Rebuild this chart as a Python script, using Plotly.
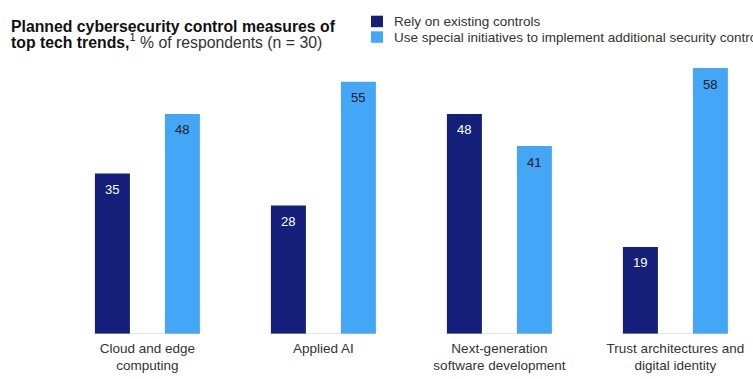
import plotly.graph_objects as go

categories = ["Cloud and edge<br>computing", "Applied AI", "Next-generation<br>software development",
              "Trust architectures and<br>digital identity"]
series_names = ["Rely on existing controls",
                "Use special initiatives to implement additional security controls"]
rely_existing = [35, 28, 48, 19]
special_initiatives = [48, 55, 41, 58]

DARK = "#131F78"
LIGHT = "#44A6F6"
TEXT = "#333333"
FONT = "Liberation Sans, Arial, sans-serif"

W, H = 753, 379
ML, MR, MT, MB = 60, 0, 60, 45
PW, PH = W - ML - MR, H - MT - MB


def px_x(px):
    return (px - ML) / PW


def px_y(py):
    return (H - MB - py) / PH


xs = list(range(len(categories)))

fig = go.Figure()
fig.add_trace(go.Bar(x=xs, y=rely_existing, name=series_names[0], marker_color=DARK,
                     marker_line_width=0, showlegend=False, hoverinfo="skip"))
fig.add_trace(go.Bar(x=xs, y=special_initiatives, name=series_names[1], marker_color=LIGHT,
                     marker_line_width=0, showlegend=False, hoverinfo="skip"))

annotations = []
off = 0.199
for i, (a, b) in enumerate(zip(rely_existing, special_initiatives)):
    annotations.append(dict(x=i - off, y=a, text=str(a), showarrow=False, yshift=-16,
                            yanchor="middle", font=dict(family=FONT, size=13, color="white")))
    annotations.append(dict(x=i + off, y=b, text=str(b), showarrow=False, yshift=-16,
                            yanchor="middle", font=dict(family=FONT, size=13, color="#1a1a1a")))

shapes = []
for i in xs:
    shapes.append(dict(type="line", xref="x", yref="y", x0=i - 0.3, x1=i + 0.3, y0=0, y1=0,
                       line=dict(color="#c8c8c8", width=1), layer="above"))

# title
annotations.append(dict(xref="paper", yref="paper", x=px_x(9), y=px_y(26.5), xanchor="left",
                        yanchor="middle", showarrow=False, align="left",
                        text="<b>Planned cybersecurity control measures of</b>",
                        font=dict(family=FONT, size=15.8, color="#111111")))
annotations.append(dict(xref="paper", yref="paper", x=px_x(9), y=px_y(41), xanchor="left",
                        yanchor="middle", showarrow=False, align="left",
                        text="<b>top tech trends,</b><sup>1</sup> <span style='color:#333'>% of respondents (n = 30)</span>",
                        font=dict(family=FONT, size=15.8, color="#111111")))

# legend
legend_colors = [DARK, LIGHT]
for k, (name, col) in enumerate(zip(series_names, legend_colors)):
    top = 15.7 + k * 15.6
    shapes.append(dict(type="rect", xref="paper", yref="paper", x0=px_x(371), x1=px_x(383),
                       y0=px_y(top + 11.5), y1=px_y(top), fillcolor=col, line_width=0))
    annotations.append(dict(xref="paper", yref="paper", x=px_x(392), y=px_y(top + 5.8),
                            xanchor="left", yanchor="middle", showarrow=False, text=name,
                            font=dict(family=FONT, size=13.5, color=TEXT)))

fig.update_layout(
    width=W, height=H,
    margin=dict(l=ML, r=MR, t=MT, b=MB, pad=0),
    paper_bgcolor="white", plot_bgcolor="white",
    barmode="group", bargap=0.2045, bargroupgap=0.5,
    showlegend=False,
    xaxis=dict(range=[-0.4966, -0.4966 + PW / 176.0], tickvals=xs, ticktext=categories,
               showgrid=False, zeroline=False, showline=False, ticks="",
               ticklabelstandoff=4,
               tickfont=dict(family=FONT, size=13.5, color=TEXT), fixedrange=True),
    yaxis=dict(range=[0, PH / 4.585], visible=False, fixedrange=True),
    annotations=annotations, shapes=shapes,
)

fig.write_html("out.html", config={"displayModeBar": False},
               post_script="document.body.style.margin='0';")
